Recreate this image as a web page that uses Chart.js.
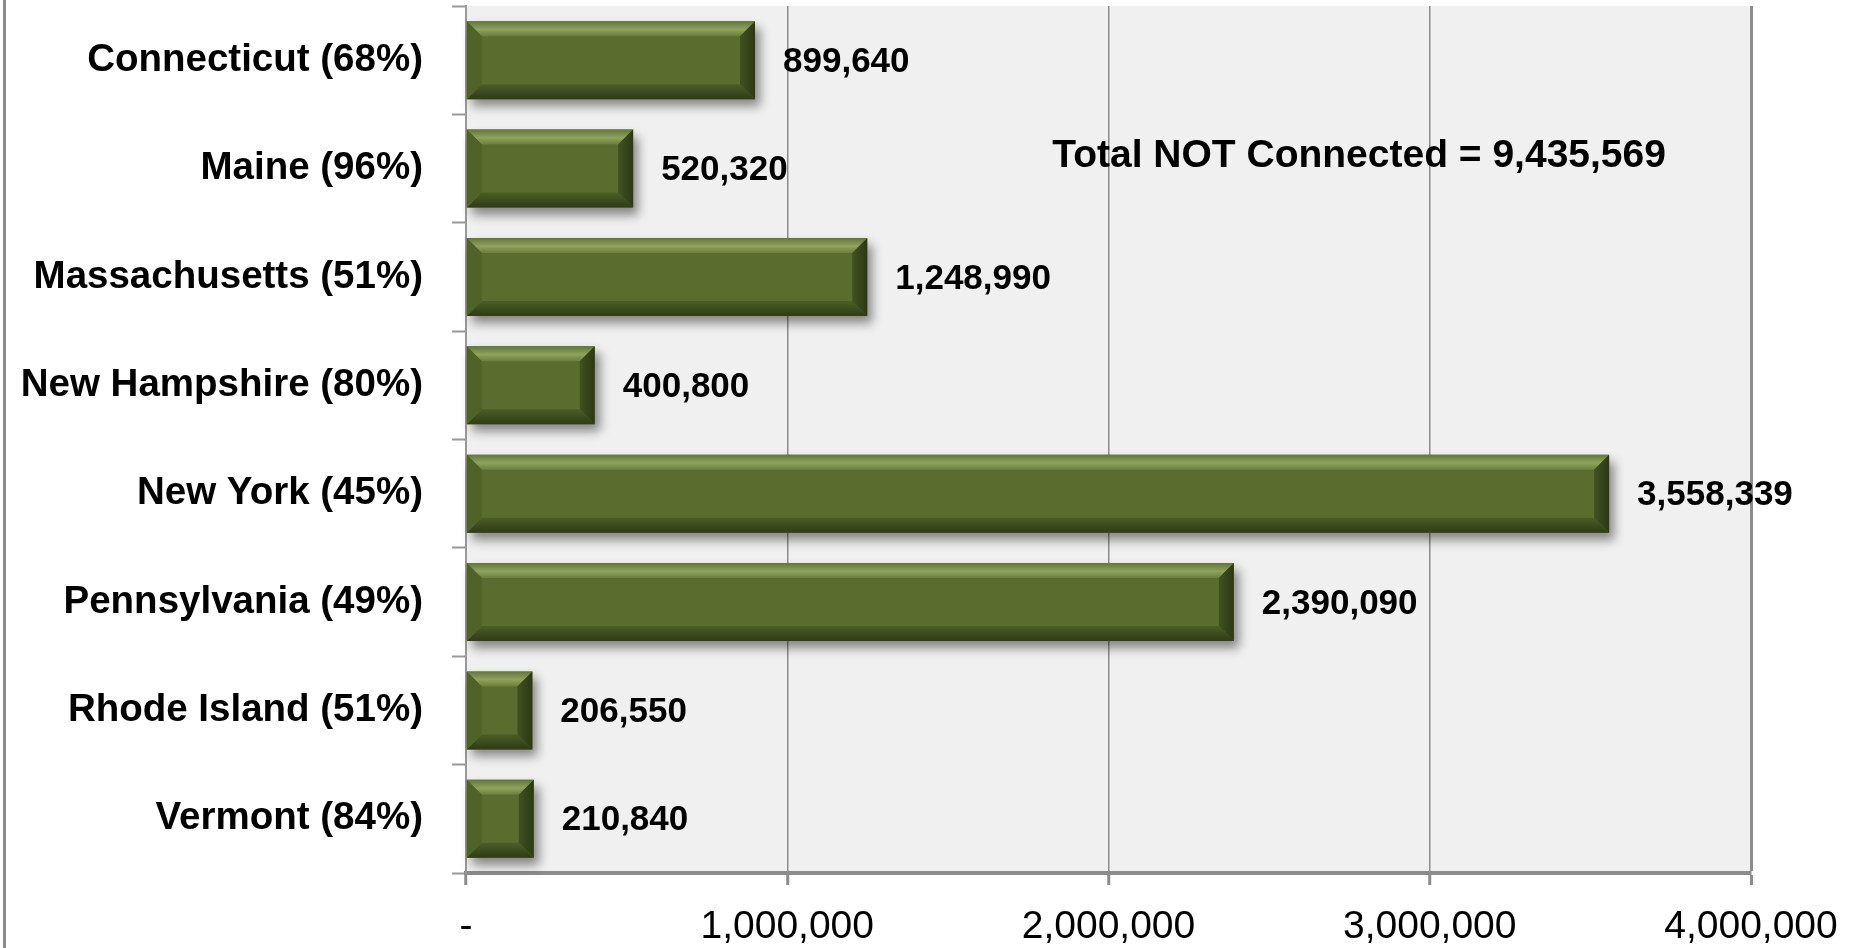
<!DOCTYPE html>
<html>
<head>
<meta charset="utf-8">
<script src="https://cdn.jsdelivr.net/npm/chart.js@4.4.1/dist/chart.umd.min.js"></script>
<style>
  html, body { margin: 0; padding: 0; background: #ffffff; }
  #wrap { width: 1858px; height: 948px; position: relative; }
</style>
</head>
<body>
<div id="wrap"><canvas id="c" width="1858" height="948"></canvas></div>
<script>
const states = ['Connecticut (68%)', 'Maine (96%)', 'Massachusetts (51%)', 'New Hampshire (80%)',
                'New York (45%)', 'Pennsylvania (49%)', 'Rhode Island (51%)', 'Vermont (84%)'];
const notConnected = [899640, 520320, 1248990, 400800, 3558339, 2390090, 206550, 210840];
const xTickValues = [0, 1000000, 2000000, 3000000, 4000000];
const totalLabel = 'Total NOT Connected = 9,435,569';

const FONT = '"Liberation Sans", Arial, sans-serif';

const decorPlugin = {
  id: 'decor',
  beforeDraw(chart) {
    const { ctx, chartArea: a } = chart;
    ctx.save();
    ctx.fillStyle = '#f0f0f0';
    ctx.fillRect(a.left, a.top, a.right - a.left, a.bottom - a.top);
    ctx.fillStyle = '#8c8c8c';
    ctx.fillRect(3, 0, 3, chart.height);
    ctx.restore();
  },
  beforeDatasetsDraw(chart) {
    const ctx = chart.ctx;
    ctx.save();
    ctx.shadowColor = 'rgba(0,0,0,0.45)';
    ctx.shadowBlur = 10;
    ctx.shadowOffsetX = 5;
    ctx.shadowOffsetY = 7;
  },
  afterDatasetsDraw(chart) {
    const ctx = chart.ctx;
    ctx.restore();
    const meta = chart.getDatasetMeta(0);
    const b = 15;
    meta.data.forEach((el, i) => {
      const p = el.getProps(['x', 'y', 'base', 'height'], true);
      const L = Math.min(p.base, p.x), R = Math.max(p.base, p.x);
      const T = p.y - p.height / 2, B = p.y + p.height / 2;
      const bw = Math.min(b, (R - L) / 2);
      ctx.save();
      // top bevel
      let g = ctx.createLinearGradient(0, T, 0, T + b);
      g.addColorStop(0, '#627735');
      g.addColorStop(0.55, '#8fa35f');
      g.addColorStop(1, '#6a7f3c');
      ctx.fillStyle = g;
      ctx.beginPath();
      ctx.moveTo(L, T); ctx.lineTo(R, T); ctx.lineTo(R - bw, T + b); ctx.lineTo(L + bw, T + b); ctx.closePath();
      ctx.fill();
      // bottom bevel
      g = ctx.createLinearGradient(0, B - b, 0, B);
      g.addColorStop(0, '#4c5e25');
      g.addColorStop(1, '#2f3b16');
      ctx.fillStyle = g;
      ctx.beginPath();
      ctx.moveTo(L, B); ctx.lineTo(R, B); ctx.lineTo(R - bw, B - b); ctx.lineTo(L + bw, B - b); ctx.closePath();
      ctx.fill();
      // left bevel
      ctx.fillStyle = '#4f6328';
      ctx.beginPath();
      ctx.moveTo(L, T); ctx.lineTo(L + bw, T + b); ctx.lineTo(L + bw, B - b); ctx.lineTo(L, B); ctx.closePath();
      ctx.fill();
      // right bevel
      g = ctx.createLinearGradient(R - bw, 0, R, 0);
      g.addColorStop(0, '#415220');
      g.addColorStop(1, '#2c3814');
      ctx.fillStyle = g;
      ctx.beginPath();
      ctx.moveTo(R, T); ctx.lineTo(R - bw, T + b); ctx.lineTo(R - bw, B - b); ctx.lineTo(R, B); ctx.closePath();
      ctx.fill();
      ctx.restore();

      // data label
      ctx.save();
      ctx.font = 'bold 35px ' + FONT;
      ctx.fillStyle = '#000000';
      ctx.textAlign = 'left';
      ctx.textBaseline = 'middle';
      ctx.fillText(notConnected[i].toLocaleString('en-US'), R + 28, p.y + 2);
      ctx.restore();
    });

    // total annotation
    const xs = chart.scales.x, ys = chart.scales.y;
    ctx.save();
    ctx.font = 'bold 39px ' + FONT;
    ctx.fillStyle = '#000000';
    ctx.textAlign = 'center';
    ctx.textBaseline = 'middle';
    ctx.fillText(totalLabel, xs.getPixelForValue(2780000), ys.getPixelForValue(1) - 12);
    ctx.restore();
  }
};

new Chart(document.getElementById('c'), {
  type: 'bar',
  data: {
    labels: states,
    datasets: [{
      data: notConnected,
      backgroundColor: '#5a6d2f',
      borderWidth: 0,
      barPercentage: 0.72,
      categoryPercentage: 1.0,
      clip: false
    }]
  },
  options: {
    indexAxis: 'y',
    responsive: false,
    animation: false,
    devicePixelRatio: 1,
    layout: { padding: { left: 0, right: 107, top: 6, bottom: 0 } },
    plugins: { legend: { display: false }, tooltip: { enabled: false } },
    scales: {
      x: {
        type: 'linear',
        min: 0,
        max: 4000000,
        afterBuildTicks(scale) { scale.ticks = xTickValues.map(v => ({ value: v })); },
        afterFit(scale) { scale.height = 75; scale.paddingLeft = 0; scale.paddingRight = 0; },
        ticks: {
          font: { family: FONT, size: 39 },
          color: '#000000',
          padding: 19,
          maxRotation: 0,
          callback: v => v === 0 ? '-' : Number(v).toLocaleString('en-US')
        },
        grid: {
          color: '#8c8c8c',
          lineWidth: ctx => (ctx.index === xTickValues.length - 1 ? 3 : 1.5),
          drawTicks: true,
          tickLength: 12,
          tickWidth: 3,
          tickColor: '#8c8c8c'
        },
        border: { display: true, color: '#8c8c8c', width: 4 }
      },
      y: {
        type: 'category',
        afterFit(scale) { scale.width = 466; scale.paddingTop = 0; scale.paddingBottom = 0; },
        ticks: {
          font: { family: FONT, size: 38.5, weight: 'bold' },
          color: '#000000',
          padding: 29
        },
        grid: {
          drawOnChartArea: false,
          drawTicks: true,
          tickLength: 14,
          color: '#999999',
          tickWidth: 2,
          offset: true
        },
        border: { display: true, color: '#999999', width: 2 }
      }
    }
  },
  plugins: [decorPlugin]
});
</script>
</body>
</html>
